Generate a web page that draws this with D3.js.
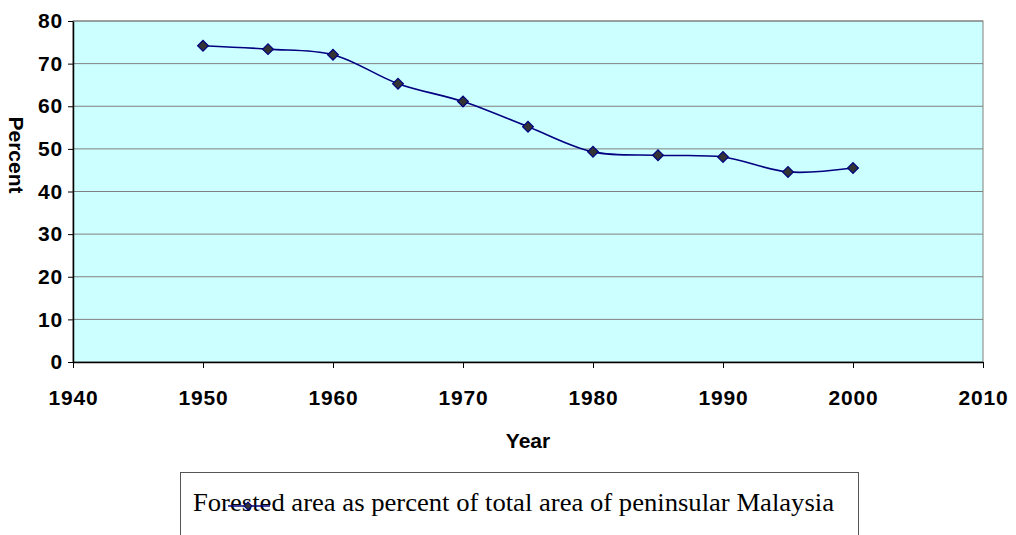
<!DOCTYPE html>
<html>
<head>
<meta charset="utf-8">
<script src="https://cdn.jsdelivr.net/npm/d3@7"></script>
<style>
  body { margin: 0; background: #fff; }
  svg text { font-family: "Liberation Sans", Arial, sans-serif; }
</style>
</head>
<body>
<svg id="chart" width="1016" height="535"></svg>
<script>
// data
const years = [1950, 1955, 1960, 1965, 1970, 1975, 1980, 1985, 1990, 1995, 2000];
const percent = [74.2, 73.4, 72.1, 65.3, 61.1, 55.2, 49.3, 48.5, 48.1, 44.6, 45.5];
const xTicks = [1940, 1950, 1960, 1970, 1980, 1990, 2000, 2010];
const yTicks = [0, 10, 20, 30, 40, 50, 60, 70, 80];
const seriesName = "Forested area as percent of total area of peninsular Malaysia";

var svg = d3.select("#chart"),
  margin = {top: 21, left: 73, right: 33, bottom: 173},
  width = +svg.attr("width"),
  height = +svg.attr("height");

var x = d3.scaleLinear().domain([1940, 2010]).range([margin.left, width - margin.right]);
var y = d3.scaleLinear().domain([0, 80]).range([height - margin.bottom, margin.top]);

/* plot area background */
svg.append("rect")
  .attr("x", x(1940)).attr("y", y(80))
  .attr("width", x(2010) - x(1940)).attr("height", y(0) - y(80))
  .attr("fill", "#ccffff")
  .attr("stroke", "#808080");

/* gridlines */
svg.append("g").selectAll("line")
  .data(yTicks.filter(d => d > 0))
  .enter().append("line")
  .attr("x1", x(1940)).attr("x2", x(2010))
  .attr("y1", d => y(d)).attr("y2", d => y(d))
  .attr("stroke", "#808080").attr("stroke-width", 1);

var yAxis = svg.append("g")
  .attr("transform", `translate(${x(1940)},0)`)
  .call(d3.axisLeft(y).tickValues(yTicks).tickSize(5).tickPadding(5).tickSizeOuter(0));

var xAxis = svg.append("g")
  .attr("transform", `translate(0,${y(0)})`)
  .call(d3.axisBottom(x).tickValues(xTicks).tickFormat(d3.format("d")).tickSize(6).tickPadding(22).tickSizeOuter(0));

[yAxis, xAxis].forEach(a => {
  a.select(".domain").attr("stroke", "#000").attr("stroke-width", 1.5);
  a.selectAll(".tick line").attr("stroke", "#000");
  a.selectAll("text")
    .attr("fill", "#000")
    .style("font-size", "21px")
    .style("font-weight", "bold")
    .style("letter-spacing", "0.8px")
    .style("font-family", "'Liberation Sans', Arial, sans-serif");
});

/* axis titles */
svg.append("text")
  .attr("x", (x(1940) + x(2010)) / 2).attr("y", 448)
  .attr("text-anchor", "middle")
  .style("font-size", "21px").style("font-weight", "bold")
  .text("Year");

svg.append("text")
  .attr("transform", "translate(9,155) rotate(90)")
  .attr("text-anchor", "middle")
  .style("font-size", "21px").style("font-weight", "bold")
  .text("Percent");

/* series */
var pts = years.map((d, i) => [d, percent[i]]);
var line = d3.line()
  .x(d => x(d[0])).y(d => y(d[1]))
  .curve(d3.curveCatmullRom.alpha(0.5));

svg.append("path")
  .datum(pts)
  .attr("d", line)
  .attr("fill", "none")
  .attr("stroke", "#000080")
  .attr("stroke-width", 1.6);

svg.append("g").selectAll("path")
  .data(pts)
  .enter().append("path")
  .attr("transform", d => `translate(${x(d[0])},${y(d[1])}) rotate(45)`)
  .attr("d", d3.symbol().type(d3.symbolSquare).size(58))
  .attr("fill", "#333333")
  .attr("stroke", "#000080")
  .attr("stroke-width", 1.2);

/* legend */
var legend = svg.append("g");
legend.append("rect")
  .attr("x", 180.5).attr("y", 472.5)
  .attr("width", 678).attr("height", 80)
  .attr("fill", "#fff").attr("stroke", "#555");

legend.append("text")
  .attr("x", 193).attr("y", 511)
  .attr("textLength", 641)
  .attr("lengthAdjust", "spacingAndGlyphs")
  .style("font-family", "'Liberation Serif', 'Times New Roman', serif")
  .style("font-size", "25px")
  .attr("fill", "#000")
  .text(seriesName);

legend.append("line")
  .attr("x1", 228).attr("x2", 270)
  .attr("y1", 506).attr("y2", 506)
  .attr("stroke", "#000080").attr("stroke-width", 1.6);

legend.append("path")
  .attr("transform", "translate(248,506) rotate(45)")
  .attr("d", d3.symbol().type(d3.symbolSquare).size(32))
  .attr("fill", "#333333")
  .attr("stroke", "#000080");
</script>
</body>
</html>
